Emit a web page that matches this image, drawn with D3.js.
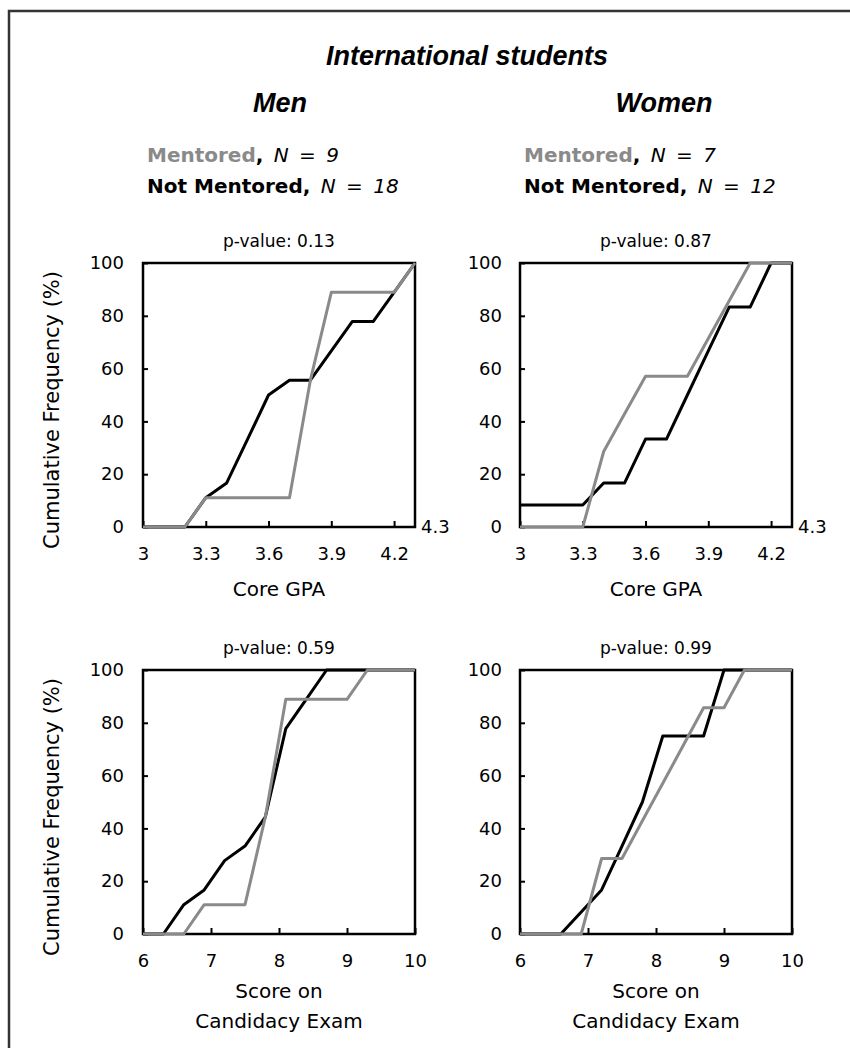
<!DOCTYPE html>
<html>
<head>
<meta charset="utf-8">
<script src="https://cdn.jsdelivr.net/npm/d3@7"></script>
<style>
body { margin: 0; background: #fff; }
</style>
</head>
<body>
<div id="chart"></div>
<script>
// GPA bins and cumulative frequencies (%)
var gpaBins = [3.0, 3.1, 3.2, 3.3, 3.4, 3.5, 3.6, 3.7, 3.8, 3.9, 4.0, 4.1, 4.2, 4.3];
var menGpaNot = [0, 0, 0, 11.1, 16.7, 33.3, 50, 55.6, 55.6, 66.7, 77.8, 77.8, 88.9, 100];
var menGpaMentored = [0, 0, 0, 11.1, 11.1, 11.1, 11.1, 11.1, 55.6, 88.9, 88.9, 88.9, 88.9, 100];
var womenGpaNot = [8.3, 8.3, 8.3, 8.3, 16.7, 16.7, 33.3, 33.3, 50, 66.7, 83.3, 83.3, 100, 100];
var womenGpaMentored = [0, 0, 0, 0, 28.6, 42.9, 57.1, 57.1, 57.1, 71.4, 85.7, 100, 100, 100];

// candidacy exam bins
var examBins = [6.0, 6.3, 6.6, 6.9, 7.2, 7.5, 7.8, 8.1, 8.4, 8.7, 9.0, 9.3, 9.6, 10];
var menExamNot = [0, 0, 11.1, 16.7, 27.8, 33.3, 44.4, 77.8, 88.9, 100, 100, 100, 100, 100];
var menExamMentored = [0, 0, 0, 11.1, 11.1, 11.1, 44.4, 88.9, 88.9, 88.9, 88.9, 100, 100, 100];
var womenExamNot = [0, 0, 0, 8.3, 16.7, 33.3, 50, 75, 75, 75, 100, 100, 100, 100];
var womenExamMentored = [0, 0, 0, 0, 28.6, 28.6, 42.9, 57.1, 71.4, 85.7, 85.7, 100, 100, 100];

var gpaTickLabels = [3, 3.3, 3.6, 3.9, 4.2];
var examTickLabels = [6, 7, 8, 9, 10];
var yTicks = [0, 20, 40, 60, 80, 100];

var groups = ['Men', 'Women'];
var nMentored = [9, 7];
var nNot = [18, 12];
var pValues = ['0.13', '0.87', '0.59', '0.99'];

var black = '#000', gray = '#8a8a8a';
var tickFont = '"DejaVu Sans", sans-serif';
var titleFont = '"Liberation Sans Narrow", "Liberation Sans", sans-serif';

var svg = d3.select('#chart').append('svg')
    .attr('width', 850)
    .attr('height', 1048);

// outer frame
svg.append('rect')
    .attr('x', 9).attr('y', 11)
    .attr('width', 900).attr('height', 1100)
    .attr('fill', 'none')
    .attr('stroke', '#333')
    .attr('stroke-width', 2.5);

svg.append('text')
    .attr('x', 467).attr('y', 65)
    .attr('text-anchor', 'middle')
    .style('font-family', titleFont)
    .style('font-weight', 'bold')
    .style('font-style', 'italic')
    .style('font-size', '27px')
    .text('International students');

var colX = [143, 520];
var headX = [280, 664];

groups.forEach((g, i) => {
    svg.append('text')
        .attr('x', headX[i]).attr('y', 112)
        .attr('text-anchor', 'middle')
        .style('font-family', titleFont)
        .style('font-weight', 'bold')
        .style('font-style', 'italic')
        .style('font-size', '27px')
        .text(g);

    var leg = [['Mentored', nMentored[i], gray, 162], ['Not Mentored', nNot[i], black, 193]];
    leg.forEach(l => {
        var t = svg.append('text')
            .attr('x', colX[i] + 4).attr('y', l[3])
            .style('font-family', tickFont)
            .style('font-size', '20px');
        t.append('tspan').style('font-weight', 'bold').attr('fill', l[2]).text(l[0]);
        t.append('tspan').style('font-weight', 'bold').text(',');
        t.append('tspan').style('font-style', 'italic').attr('xml:space', 'preserve')
            .style('word-spacing', '4px')
            .text(' N = ' + l[1]);
    });
});

var panels = [
    {left: 143, top: 263, bins: gpaBins, domain: [3, 4.3], labels: gpaTickLabels, not: menGpaNot, ment: menGpaMentored, p: pValues[0], ylab: true, xlab: ['Core GPA'], extra: '4.3'},
    {left: 520, top: 263, bins: gpaBins, domain: [3, 4.3], labels: gpaTickLabels, not: womenGpaNot, ment: womenGpaMentored, p: pValues[1], ylab: false, xlab: ['Core GPA'], extra: '4.3'},
    {left: 143, top: 670, bins: examBins, domain: [6, 10], labels: examTickLabels, not: menExamNot, ment: menExamMentored, p: pValues[2], ylab: true, xlab: ['Score on', 'Candidacy Exam']},
    {left: 520, top: 670, bins: examBins, domain: [6, 10], labels: examTickLabels, not: womenExamNot, ment: womenExamMentored, p: pValues[3], ylab: false, xlab: ['Score on', 'Candidacy Exam']}
];

var width = 272, height = 264;

panels.forEach(p => {
    var g = svg.append('g').attr('transform', `translate(${p.left}, ${p.top})`);

    var x = d3.scaleLinear().domain(p.domain).range([0, width]);
    var y = d3.scaleLinear().domain([0, 100]).range([height, 0]);

    // x axis, ticks pointing in
    g.append('g')
        .attr('transform', `translate(0, ${height})`)
        .call(d3.axisBottom(x).tickValues(p.labels).tickFormat(d => d)
            .tickSizeInner(-6).tickSizeOuter(0).tickPadding(20))
        .call(a => a.select('.domain').remove())
        .call(a => a.selectAll('line').attr('stroke', black).attr('stroke-width', 2))
        .call(a => a.selectAll('text').style('font-family', tickFont).style('font-size', '18px').attr('fill', black));

    g.append('g')
        .call(d3.axisLeft(y).tickValues(yTicks)
            .tickSizeInner(-5).tickSizeOuter(0).tickPadding(p.ylab ? 19 : 18))
        .call(a => a.select('.domain').remove())
        .call(a => a.selectAll('line').attr('stroke', black).attr('stroke-width', 2))
        .call(a => a.selectAll('text').style('font-family', tickFont).style('font-size', '18px').attr('fill', black));

    g.append('rect')
        .attr('width', width).attr('height', height)
        .attr('fill', 'none')
        .attr('stroke', black)
        .attr('stroke-width', 2.5);

    if (p.extra) {
        g.append('text')
            .attr('x', width + 6).attr('y', height)
            .attr('dy', '0.35em')
            .style('font-family', tickFont)
            .style('font-size', '18px')
            .text(p.extra);
    }

    var line = d3.line()
        .x((d, i) => x(p.bins[i]))
        .y(d => y(d));

    g.append('path').datum(p.not)
        .attr('d', line)
        .attr('fill', 'none')
        .attr('stroke', black)
        .attr('stroke-width', 3)
        .attr('stroke-linejoin', 'round');

    g.append('path').datum(p.ment)
        .attr('d', line)
        .attr('fill', 'none')
        .attr('stroke', gray)
        .attr('stroke-width', 3)
        .attr('stroke-linejoin', 'round');

    g.append('text')
        .attr('x', width / 2).attr('y', -16)
        .attr('text-anchor', 'middle')
        .style('font-family', tickFont)
        .style('font-size', '17px')
        .text('p-value: ' + p.p);

    p.xlab.forEach((t, i) => {
        g.append('text')
            .attr('x', width / 2).attr('y', height + (p.xlab.length > 1 ? 64 : 69) + i * 30)
            .attr('text-anchor', 'middle')
            .style('font-family', tickFont)
            .style('font-size', '20px')
            .text(t);
    });

    if (p.ylab) {
        g.append('text')
            .attr('transform', `translate(-91, ${height / 2 + 15}) rotate(-90)`)
            .attr('text-anchor', 'middle')
            .attr('dy', '0.35em')
            .style('font-family', tickFont)
            .style('font-size', '21px')
            .text('Cumulative Frequency (%)');
    }
});
</script>
</body>
</html>
